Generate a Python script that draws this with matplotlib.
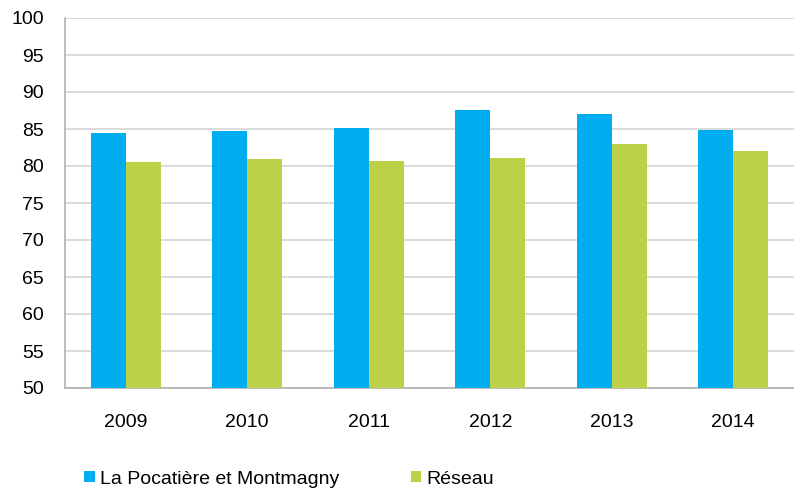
import matplotlib.pyplot as plt
import numpy as np

plt.rcParams['font.family'] = ['Liberation Sans', 'DejaVu Sans']

years = ['2009', '2010', '2011', '2012', '2013', '2014']
pocatiere = [84.5, 84.7, 85.2, 87.6, 87.0, 84.9]
reseau = [80.6, 80.9, 80.7, 81.1, 83.0, 82.0]

blue = '#00aeef'
green = '#bcd147'
grid = '#d4d4d4'

fig = plt.figure(figsize=(7.94, 4.88), dpi=100)
ax = fig.add_axes([65 / 794, 1 - 388 / 488, 729 / 794, 370 / 488])

x = np.arange(len(years))
w = 0.287
ax.bar(x - w / 2, pocatiere, w, color=blue, label='La Pocatière et Montmagny', zorder=3)
ax.bar(x + w / 2, reseau, w, color=green, label='Réseau', zorder=3)

ax.set_ylim(50, 100)
ax.set_xlim(-0.5, len(years) - 0.5)
ax.set_yticks(range(50, 101, 5))
ax.set_xticks(x)
ax.set_xticklabels(years)
ax.yaxis.grid(True, color=grid, linewidth=1.2, zorder=0)
ax.tick_params(axis='both', labelsize=14, length=0, colors='black')
ax.tick_params(axis='x', pad=19)
ax.tick_params(axis='y', pad=15)
for s in ['top', 'right']:
    ax.spines[s].set_visible(False)
for s in ['left', 'bottom']:
    ax.spines[s].set_color('#b0b0b0')
    ax.spines[s].set_linewidth(1.2)

h, l = ax.get_legend_handles_labels()
fig.legend(h, l, loc='center left', bbox_to_anchor=(84 / 794, 1 - 479 / 488),
           ncol=2, frameon=False, fontsize=14, handlelength=0.55, handleheight=0.55,
           handletextpad=0.25, columnspacing=3.7, borderaxespad=0, borderpad=0)

fig.savefig('out.png', dpi=100)
